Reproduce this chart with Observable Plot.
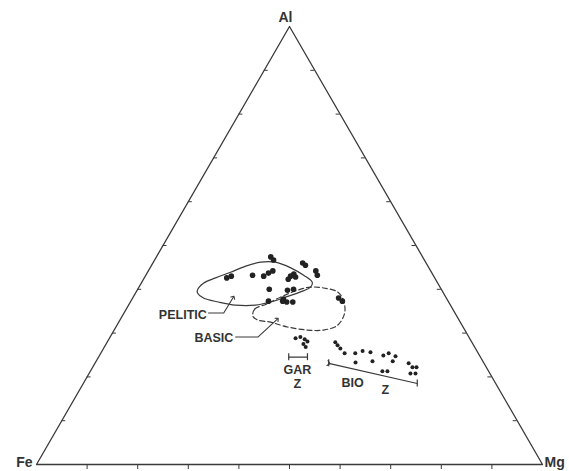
<!DOCTYPE html>
<html>
<head>
<meta charset="utf-8">
<script src="https://cdn.jsdelivr.net/npm/d3@7"></script>
<script src="https://cdn.jsdelivr.net/npm/@observablehq/plot@0.6"></script>
<style>
  html, body { margin: 0; padding: 0; background: #fff; }
</style>
</head>
<body>
<div id="chart"></div>
<script>
// ---- Data (ternary percentages: Al, Mg; Fe = 100 - Al - Mg) ----
const vertexNames = ["Fe", "Mg", "Al"];
const vertexAl = [0, 0, 100];
const vertexMg = [0, 100, 0];

const tickValues = [10, 20, 30, 40, 50, 60, 70, 80, 90];

// samples in the pelitic / basic fields
const fieldAl = [47.4, 46.7, 46.0, 45.5, 44.2, 43.2, 42.6, 43.0, 43.2, 43.0, 43.7, 44.2, 43.0, 42.3, 43.5, 42.8, 40.0, 39.8, 40.0, 37.3, 37.3, 37.1, 37.1, 37.8, 38.0, 37.3];
const fieldMg = [22.6, 23.5, 29.6, 30.4, 33.1, 33.9, 16.3, 17.0, 21.1, 23.4, 24.0, 24.6, 28.7, 28.6, 29.1, 29.8, 26.0, 29.7, 30.8, 27.2, 30.0, 30.9, 32.1, 29.9, 40.7, 41.8];
// garnet zone samples
const garAl = [28.8, 29.1, 28.6, 28.1, 27.5, 26.8];
const garMg = [36.8, 37.6, 38.7, 39.5, 39.0, 39.8];
// biotite zone samples
const bioAl = [27.9, 27.2, 26.5, 25.4, 25.4, 25.9, 25.6, 23.3, 23.6, 24.9, 25.4, 24.7, 23.6, 21.3, 21.3, 23.1, 22.2, 22.2, 20.8, 20.8];
const bioMg = [45.1, 45.9, 46.8, 48.2, 50.3, 51.5, 53.2, 51.4, 54.6, 56.1, 56.9, 58.6, 58.6, 57.7, 58.7, 62.0, 63.2, 64.0, 63.5, 64.5];

// field outlines
const peliticAl = [39.8, 41.4, 42.6, 43.9, 45.3, 46.2, 46.2, 44.9, 43.2, 41.6, 40.5, 39.4, 38.2, 37.1, 36.4, 36.4, 37.1, 38.0, 39.1];
const peliticMg = [11.9, 12.3, 14.1, 16.4, 18.7, 21.2, 24.1, 27.8, 31.2, 33.7, 33.9, 32.5, 30.1, 27.7, 25.1, 21.1, 17.4, 14.0, 12.3];
const basicAl = [33.9, 35.5, 36.6, 38.2, 39.8, 40.5, 40.3, 39.4, 37.5, 34.6, 31.8, 30.7, 30.7, 31.4, 32.5, 33.0];
const basicMg = [25.8, 25.4, 27.1, 29.1, 31.7, 33.9, 36.6, 39.8, 41.9, 43.6, 43.6, 41.4, 38.2, 33.9, 30.0, 27.2];

// annotation leaders / bars
const peliticLeaderAl = [34.6, 34.6, 38.2];
const peliticLeaderMg = [16.7, 19.7, 19.8];
const basicLeaderAl = [29.1, 29.1, 33.2];
const basicLeaderMg = [24.8, 29.2, 31.0];
const garBarAl = [24.5, 24.5];
const garBarMg = [37.6, 41.3];
const bioBarAl = [23.1, 18.5];
const bioBarMg = [46.2, 66.0];

// field labels (right-aligned) and zone labels (centred)
const fieldLabelText = ["PELITIC", "BASIC"];
const fieldLabelAl = [34.1, 28.8];
const fieldLabelMg = [16.6, 24.5];
const zoneLabelText = ["GAR", "Z", "BIO", "Z"];
const zoneLabelAl = [21.5, 18.3, 18.5, 16.9];
const zoneLabelMg = [40.8, 42.4, 53.2, 60.5];

// ---- helpers ----
const S = Math.sqrt(3) / 2;
const toXY = (al, mg) => ({x: (mg + al / 2) / 100, y: (al / 100) * S});
const zipXY = (als, mgs, extra = () => ({})) => als.map((a, i) => ({...toXY(a, mgs[i]), ...extra(i)}));

const triangle = zipXY(vertexAl, vertexMg, i => ({name: vertexNames[i]}));
const fieldPts = zipXY(fieldAl, fieldMg);
const garPts = zipXY(garAl, garMg);
const bioPts = zipXY(bioAl, bioMg);
const pelitic = zipXY(peliticAl, peliticMg);
const basic = zipXY(basicAl, basicMg);
const pelLeader = zipXY(peliticLeaderAl, peliticLeaderMg);
const basLeader = zipXY(basicLeaderAl, basicLeaderMg);
const garBar = zipXY(garBarAl, garBarMg);
const bioBar = zipXY(bioBarAl, bioBarMg);
const fieldLabels = zipXY(fieldLabelAl, fieldLabelMg, i => ({text: fieldLabelText[i]}));
const zoneLabels = zipXY(zoneLabelAl, zoneLabelMg, i => ({text: zoneLabelText[i]}));

// axis ticks
const bottomTicks = tickValues.map(t => ({x: t / 100}));
const leftTicks = tickValues.map(t => toXY(t, 0));         // Fe–Al edge
const rightTicks = tickValues.map(t => toXY(t, 100 - t));  // Mg–Al edge

const W = 569, H = 471;
const xr = [36, 542], yr = [464, 26];
const pxX = (xr[1] - xr[0]);
const pxY = (yr[0] - yr[1]) / S;
const tickLen = 5;
const capLen = 3.5;

const ink = "#3a3a3a";
const font = "'Liberation Sans', Arial, Helvetica, sans-serif";
const vertex = name => triangle.filter(d => d.name === name);

const chart = Plot.plot({
  width: W,
  height: H,
  x: {domain: [0, 1], range: xr, axis: null},
  y: {domain: [0, S], range: yr, axis: null},
  style: {fontFamily: font, background: "#fff"},
  marks: [
    // triangle frame
    Plot.line(triangle, {x: "x", y: "y", curve: "linear-closed", stroke: ink, strokeWidth: 1.3}),
    // ticks
    Plot.ruleX(bottomTicks, {x: "x", y1: 0, y2: -tickLen / pxY, stroke: ink, strokeWidth: 1}),
    Plot.ruleY(leftTicks, {y: "y", x1: "x", x2: d => d.x + 4 / pxX, stroke: ink, strokeWidth: 1}),
    Plot.ruleY(rightTicks, {y: "y", x1: "x", x2: d => d.x - 4 / pxX, stroke: ink, strokeWidth: 1}),
    // field outlines
    Plot.line(pelitic, {x: "x", y: "y", curve: "catmull-rom-closed", stroke: ink, strokeWidth: 1.2}),
    Plot.line(basic, {x: "x", y: "y", curve: "catmull-rom-closed", stroke: ink, strokeWidth: 1.2, strokeDasharray: "5,3"}),
    // leaders
    Plot.line(pelLeader, {x: "x", y: "y", stroke: ink, strokeWidth: 1.1, markerEnd: "arrow"}),
    Plot.line(basLeader, {x: "x", y: "y", stroke: ink, strokeWidth: 1.1, markerEnd: "arrow"}),
    // GAR zone bar
    Plot.line(garBar, {x: "x", y: "y", stroke: ink, strokeWidth: 1.2}),
    Plot.ruleX(garBar, {x: "x", y1: d => d.y - capLen / pxY, y2: d => d.y + capLen / pxY, stroke: ink, strokeWidth: 1.2}),
    // BIO zone bar
    Plot.line(bioBar, {x: "x", y: "y", stroke: ink, strokeWidth: 1.2, markerStart: "arrow"}),
    Plot.ruleX(bioBar, {x: "x", y1: d => d.y - capLen / pxY, y2: d => d.y + capLen / pxY, stroke: ink, strokeWidth: 1.2}),
    // samples
    Plot.dot(fieldPts, {x: "x", y: "y", r: 2.8, fill: "#222", stroke: "none"}),
    Plot.dot(garPts, {x: "x", y: "y", r: 2, fill: "#222", stroke: "none"}),
    Plot.dot(bioPts, {x: "x", y: "y", r: 2, fill: "#222", stroke: "none"}),
    // labels
    Plot.text(fieldLabels, {x: "x", y: "y", text: "text", textAnchor: "end",
      fontSize: 12.5, fontWeight: "bold", fill: "#333"}),
    Plot.text(zoneLabels, {x: "x", y: "y", text: "text", textAnchor: "middle",
      fontSize: 12.5, fontWeight: "bold", fill: "#333"}),
    Plot.text(vertex("Fe"), {x: "x", y: "y", text: "name", textAnchor: "end", dx: -4, dy: -2,
      fontSize: 14, fontWeight: "bold", fill: "#333"}),
    Plot.text(vertex("Mg"), {x: "x", y: "y", text: "name", textAnchor: "start", dx: 2, dy: -2,
      fontSize: 14, fontWeight: "bold", fill: "#333"}),
    Plot.text(vertex("Al"), {x: "x", y: "y", text: "name", textAnchor: "middle", dx: -4, dy: -9,
      fontSize: 14, fontWeight: "bold", fill: "#333"})
  ]
});
document.getElementById("chart").appendChild(chart);
</script>
</body>
</html>
